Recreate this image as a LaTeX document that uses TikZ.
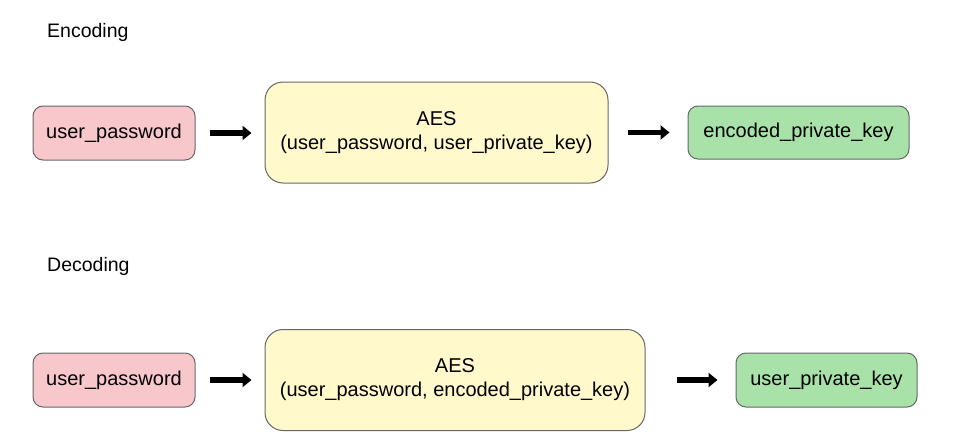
\documentclass[tikz,border=0pt]{standalone}
\usepackage{fontspec}
\setmainfont{Liberation Sans}
\usetikzlibrary{arrows.meta}
\definecolor{pinkfill}{HTML}{F8C7CB}
\definecolor{yellowfill}{HTML}{FFF9CC}
\definecolor{greenfill}{HTML}{A9E2A9}
\definecolor{boxborder}{HTML}{666666}
\begin{document}
\begin{tikzpicture}[x=1pt,y=-1pt,
  box/.style={draw=boxborder,line width=1pt,rounded corners=10pt,inner sep=0pt,align=center,font=\fontsize{20}{24}\selectfont},
  bigbox/.style={box,rounded corners=18pt},
  fatarrow/.style={line width=5.5pt,-{Triangle[length=9pt,width=14pt]}},
  lbl/.style={anchor=west,inner sep=0pt,font=\fontsize{19.5}{23}\selectfont}]
\useasboundingbox (0,0) rectangle (954,442);
\node[lbl] (enc) at (47,32) {Encoding};
\node[lbl] (dec) at (47,266) {Decoding};
\node[box,fill=pinkfill,minimum width=162pt,minimum height=54pt] (p1) at (114,133) {user\_password};
\node[bigbox,fill=yellowfill,minimum width=343pt,minimum height=101pt] (a1) at (436.5,132.5) {AES\\(user\_password, user\_private\_key)};
\node[box,fill=greenfill,minimum width=221pt,minimum height=53pt] (k1) at (798.5,132.5) {encoded\_private\_key};
\draw[fatarrow,shorten <=14pt,shorten >=13pt] (p1.east) -- (p1.east -| a1.west);
\draw[fatarrow,shorten <=19pt,shorten >=18pt] (a1.east |- k1.west) -- (k1.west);
\node[box,fill=pinkfill,minimum width=162pt,minimum height=54pt] (p2) at (114,380) {user\_password};
\node[bigbox,fill=yellowfill,minimum width=380pt,minimum height=101pt] (a2) at (455,380) {AES\\(user\_password, encoded\_private\_key)};
\node[box,fill=greenfill,minimum width=181pt,minimum height=54pt] (k2) at (826.5,380) {user\_private\_key};
\draw[fatarrow,shorten <=14pt,shorten >=13pt] (p2.east) -- (p2.east -| a2.west);
\draw[fatarrow,shorten <=31pt,shorten >=18pt] (a2.east |- k2.west) -- (k2.west);
\end{tikzpicture}
\end{document}
